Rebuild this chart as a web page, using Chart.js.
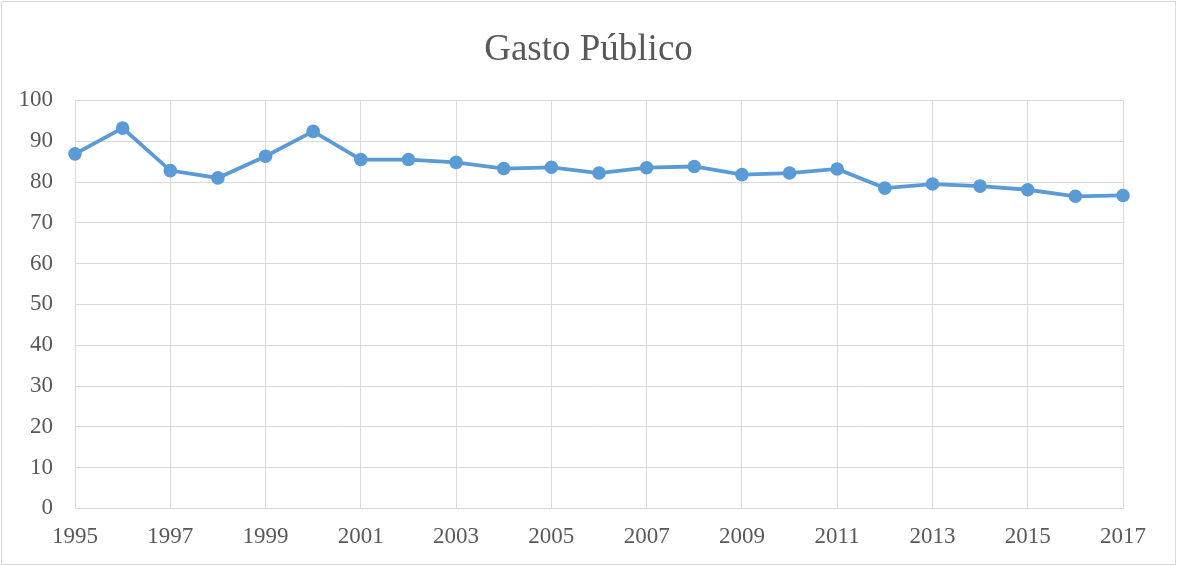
<!DOCTYPE html>
<html>
<head>
<meta charset="utf-8">
<title>Gasto Público</title>
<script src="https://cdn.jsdelivr.net/npm/chart.js@4"></script>
<style>
  html, body { margin: 0; padding: 0; background: #fff; }
  #wrap { position: relative; width: 1177px; height: 566px; }
</style>
</head>
<body>
<div id="wrap"><canvas id="gastoChart"></canvas></div>
<script>
  'use strict';

  // datos
  var years = [1995, 1996, 1997, 1998, 1999, 2000, 2001, 2002, 2003, 2004, 2005, 2006,
               2007, 2008, 2009, 2010, 2011, 2012, 2013, 2014, 2015, 2016, 2017];
  var gasto = [86.9, 93.2, 82.8, 81.0, 86.3, 92.4, 85.5, 85.5, 84.8, 83.3, 83.6, 82.2,
               83.5, 83.8, 81.8, 82.2, 83.2, 78.5, 79.5, 79.0, 78.1, 76.5, 76.7];
  var yTicks = [0, 10, 20, 30, 40, 50, 60, 70, 80, 90, 100];
  var chartTitle = 'Gasto Público';

  var points = [];
  for (var i = 0; i < years.length; i++) {
    points.push({ x: years[i], y: gasto[i] });
  }

  var serif = '"Liberation Serif", "Times New Roman", serif';
  var gray = '#595959';
  var gridColor = '#d9d9d9';

  // marco exterior del grafico
  var framePlugin = {
    id: 'frame',
    afterDraw: function(chart) {
      var ctx = chart.ctx;
      ctx.save();
      ctx.strokeStyle = gridColor;
      ctx.lineWidth = 1;
      ctx.strokeRect(1.5, 1.5, 1174, 563);
      ctx.restore();
    }
  };

  var ctx = document.getElementById('gastoChart').getContext('2d');
  var gastoChart = new Chart(ctx, {
    type: 'line',
    data: {
      datasets: [{
        label: chartTitle,
        data: points,
        borderColor: '#5b9bd5',
        backgroundColor: '#5b9bd5',
        borderWidth: 3.8,
        pointRadius: 6.8,
        pointHoverRadius: 6.8,
        pointBorderWidth: 0,
        tension: 0,
        clip: false
      }]
    },
    options: {
      responsive: true,
      maintainAspectRatio: false,
      animation: false,
      layout: {
        padding: { left: 0, right: 0, top: 0, bottom: 0 }
      },
      plugins: {
        legend: { display: false },
        tooltip: { enabled: false },
        title: {
          display: true,
          text: chartTitle,
          color: gray,
          font: { family: serif, size: 37, weight: 'normal' },
          padding: { top: 28, bottom: 28 }
        }
      },
      scales: {
        x: {
          type: 'linear',
          min: years[0],
          max: years[years.length - 1],
          grid: { color: gridColor, drawTicks: false },
          border: { color: gridColor },
          ticks: {
            stepSize: 2,
            padding: 15,
            color: gray,
            font: { family: serif, size: 23 },
            callback: function(v) { return String(v); }
          }
        },
        y: {
          min: yTicks[0],
          max: yTicks[yTicks.length - 1],
          afterFit: function(scale) { scale.width = 75; },
          afterBuildTicks: function(scale) {
            scale.ticks = yTicks.map(function(v) { return { value: v }; });
          },
          grid: { color: gridColor, drawTicks: false },
          border: { color: gridColor },
          ticks: {
            padding: 22,
            color: gray,
            font: { family: serif, size: 23 }
          }
        },
        // eje vacio solo para dejar margen a la derecha
        margen: {
          position: 'right',
          min: 0,
          max: 100,
          afterFit: function(scale) { scale.width = 54; },
          grid: { display: false },
          border: { display: false },
          ticks: { display: false }
        }
      }
    },
    plugins: [framePlugin]
  });
</script>
</body>
</html>
